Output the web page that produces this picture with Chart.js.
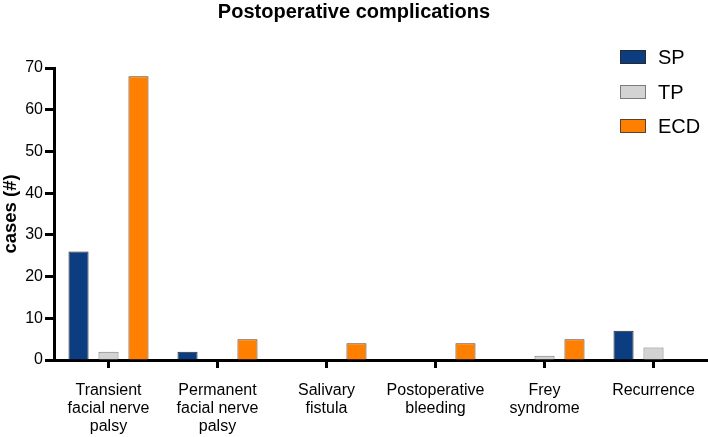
<!DOCTYPE html>
<html>
<head>
<meta charset="utf-8">
<script src="https://cdn.jsdelivr.net/npm/chart.js@4"></script>
<style>
  html, body { margin: 0; padding: 0; background: #fff; }
  #wrap { width: 708px; height: 437px; }
</style>
</head>
<body>
<div id="wrap"><canvas id="barChart" width="708" height="437"></canvas></div>
<script>
// categories and series
var categories = [
    ['Transient', 'facial nerve', 'palsy'],
    ['Permanent', 'facial nerve', 'palsy'],
    ['Salivary', 'fistula'],
    ['Postoperative', 'bleeding'],
    ['Frey', 'syndrome'],
    ['Recurrence']
];
var seriesNames = ['SP', 'TP', 'ECD'];
var spValues = [26, 2, 0, 0, 0, 7];
var tpValues = [2, 0, 0, 0, 1, 3];
var ecdValues = [68, 5, 4, 4, 5, 0];
var yMin = 0, yMax = 70, yStep = 10;

var fillColors = ['#0b3d80', '#d3d3d3', '#ff8000'];
var edgeColors = ['#2a2a2a', '#7a7a7a', '#5a4030'];
var font = "'Liberation Sans', Arial, Helvetica, sans-serif";

// legend drawn in the top right corner, like the original
var cornerLegend = {
    id: 'cornerLegend',
    afterDraw: function (chart) {
        var ctx = chart.ctx;
        var ys = [57, 92, 126];
        ctx.save();
        chart.data.datasets.forEach(function (ds, i) {
            ctx.fillStyle = ds.backgroundColor;
            ctx.fillRect(620, ys[i] - 7, 26, 14);
            ctx.strokeStyle = ds.borderColor;
            ctx.lineWidth = 1;
            ctx.strokeRect(620.5, ys[i] - 6.5, 25, 13);
            ctx.fillStyle = '#000';
            ctx.font = '20px ' + font;
            ctx.textBaseline = 'middle';
            ctx.fillText(ds.label, 658, ys[i] + 1);
        });
        ctx.restore();
    }
};

var ctxBar = document.getElementById('barChart').getContext('2d');
var barChart = new Chart(ctxBar, {
    type: 'bar',
    data: {
        labels: categories,
        datasets: [spValues, tpValues, ecdValues].map(function (vals, i) {
            return {
                label: seriesNames[i],
                data: vals,
                backgroundColor: fillColors[i],
                borderColor: edgeColors[i],
                borderWidth: 1,
                categoryPercentage: 0.825,
                barPercentage: 0.67
            };
        })
    },
    options: {
        responsive: false,
        animation: false,
        layout: { padding: 0 },
        plugins: {
            legend: { display: false },
            tooltip: { enabled: false },
            title: {
                display: true,
                text: 'Postoperative complications',
                color: '#000',
                font: { family: font, size: 20, weight: 'bold' },
                padding: { top: 0, bottom: 44 }
            }
        },
        scales: {
            x: {
                z: 1,
                afterFit: function (scale) { scale.height = 77; },
                border: { display: true, color: '#000', width: 3 },
                grid: {
                    offset: false,
                    drawOnChartArea: false,
                    drawTicks: true,
                    tickLength: 8,
                    tickWidth: 3,
                    tickColor: '#000'
                },
                ticks: {
                    color: '#000',
                    autoSkip: false,
                    maxRotation: 0,
                    padding: 13,
                    font: { family: font, size: 16, lineHeight: 1.15 }
                }
            },
            y: {
                min: yMin,
                max: yMax,
                z: 1,
                afterFit: function (scale) { scale.width = 54; },
                border: { display: true, color: '#000', width: 3 },
                grid: {
                    drawOnChartArea: false,
                    drawTicks: true,
                    tickLength: 9,
                    tickWidth: 3,
                    tickColor: '#000'
                },
                ticks: {
                    stepSize: yStep,
                    color: '#000',
                    padding: 2,
                    font: { family: font, size: 16 }
                },
                title: {
                    display: true,
                    text: 'cases (#)',
                    color: '#000',
                    padding: 0,
                    font: { family: font, size: 18.5, weight: 'bold' }
                }
            }
        }
    },
    plugins: [cornerLegend]
});
</script>
</body>
</html>
